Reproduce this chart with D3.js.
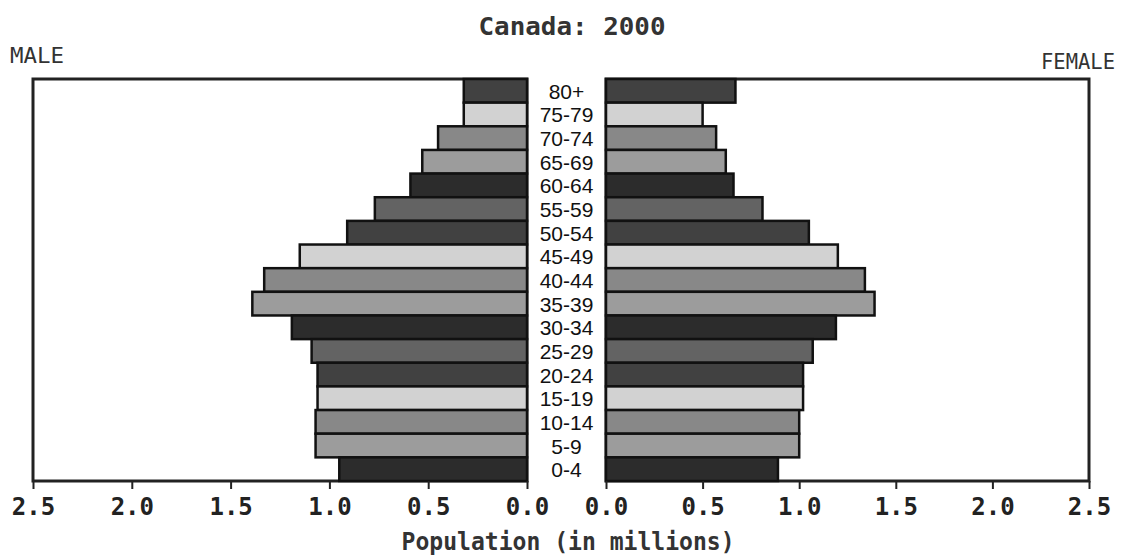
<!DOCTYPE html>
<html>
<head>
<meta charset="utf-8">
<script src="https://cdn.jsdelivr.net/npm/d3@7"></script>
<style>
  body { margin: 0; background: #fff; }
</style>
</head>
<body>
<div id="canvas"></div>
<script>
// age groups top to bottom, values in millions
const ageGroups = ['80+','75-79','70-74','65-69','60-64','55-59','50-54','45-49','40-44',
                   '35-39','30-34','25-29','20-24','15-19','10-14','5-9','0-4']
const male   = [0.32,0.32,0.45,0.53,0.59,0.77,0.91,1.15,1.33,1.39,1.19,1.09,1.06,1.06,1.07,1.07,0.95]
const female = [0.67,0.50,0.57,0.62,0.66,0.81,1.05,1.20,1.34,1.39,1.19,1.07,1.02,1.02,1.00,1.00,0.89]
const tickValues = [0, 0.5, 1.0, 1.5, 2.0, 2.5]

// grey shades repeat every 6 bars
const shades = ['#414141','#d2d2d2','#888888','#9c9c9c','#2c2c2c','#636363']

const width = 1125, height = 556
const plotTop = 79, plotBottom = 481

const svg = d3.select('#canvas').append('svg')
  .attr('width', width).attr('height', height)

let xL = d3.scaleLinear().domain([2.5, 0]).range([33, 527])
let xR = d3.scaleLinear().domain([0, 2.5]).range([606, 1089])
let y = d3.scaleBand().domain(ageGroups).range([plotTop, plotBottom]).padding(0)

// frames
svg.append('rect')
  .attr('x', xL(2.5)).attr('y', plotTop)
  .attr('width', xL(0) - xL(2.5)).attr('height', plotBottom - plotTop)
  .attr('fill', 'none').attr('stroke', '#222').attr('stroke-width', 3)
svg.append('rect')
  .attr('x', xR(0)).attr('y', plotTop)
  .attr('width', xR(2.5) - xR(0)).attr('height', plotBottom - plotTop)
  .attr('fill', 'none').attr('stroke', '#222').attr('stroke-width', 3)

// male bars
svg.append('g').selectAll('rect')
  .data(male).enter().append('rect')
  .attr('x', d => xL(d))
  .attr('y', (d, i) => y(ageGroups[i]))
  .attr('width', d => xL(0) - xL(d))
  .attr('height', y.bandwidth())
  .attr('fill', (d, i) => shades[i % 6])
  .attr('stroke', '#111').attr('stroke-width', 2.5)

// female bars
svg.append('g').selectAll('rect')
  .data(female).enter().append('rect')
  .attr('x', xR(0))
  .attr('y', (d, i) => y(ageGroups[i]))
  .attr('width', d => xR(d) - xR(0))
  .attr('height', y.bandwidth())
  .attr('fill', (d, i) => shades[i % 6])
  .attr('stroke', '#111').attr('stroke-width', 2.5)

// white label column
svg.append('rect')
  .attr('x', xL(0) + 2).attr('y', plotTop - 4)
  .attr('width', xR(0) - xL(0) - 4).attr('height', plotBottom - plotTop + 4)
  .attr('fill', '#fff')

svg.append('g').selectAll('text')
  .data(ageGroups).enter().append('text')
  .text(d => d)
  .attr('x', (xL(0) + xR(0)) / 2)
  .attr('y', d => y(d) + y.bandwidth() / 2 + 8)
  .attr('text-anchor', 'middle')
  .attr('font-family', 'Liberation Sans, Arial, sans-serif')
  .attr('font-size', 21)
  .attr('fill', '#111')

// axes
function styleAxis(g) {
  g.select('.domain').remove()
  g.selectAll('.tick line').attr('stroke', '#222').attr('stroke-width', 2)
  g.selectAll('.tick text')
    .attr('font-family', 'DejaVu Sans Mono, monospace')
    .attr('font-weight', 'bold')
    .attr('font-size', 24)
    .attr('fill', '#222')
    .attr('dy', '0.95em')
}
let xAxisL = d3.axisBottom(xL).tickValues(tickValues).tickSize(8).tickFormat(d3.format('.1f'))
svg.append('g').attr('transform', `translate(0,${plotBottom})`).call(xAxisL).call(styleAxis)
let xAxisR = d3.axisBottom(xR).tickValues(tickValues).tickSize(8).tickFormat(d3.format('.1f'))
svg.append('g').attr('transform', `translate(0,${plotBottom})`).call(xAxisR).call(styleAxis)

// texts
svg.append('text')
  .text('Canada: 2000')
  .attr('x', 572).attr('y', 35)
  .attr('text-anchor', 'middle')
  .attr('font-family', 'DejaVu Sans Mono, monospace')
  .attr('font-weight', 'bold').attr('font-size', 24)
  .attr('textLength', 187).attr('lengthAdjust', 'spacingAndGlyphs')
  .attr('fill', '#333')

svg.append('text')
  .text('MALE')
  .attr('x', 10).attr('y', 63)
  .attr('font-family', 'DejaVu Sans Mono, monospace')
  .attr('font-size', 22)
  .attr('textLength', 54).attr('lengthAdjust', 'spacingAndGlyphs')
  .attr('fill', '#333')

svg.append('text')
  .text('FEMALE')
  .attr('x', 1115).attr('y', 69)
  .attr('text-anchor', 'end')
  .attr('font-family', 'DejaVu Sans Mono, monospace')
  .attr('font-size', 22)
  .attr('textLength', 74).attr('lengthAdjust', 'spacingAndGlyphs')
  .attr('fill', '#333')

svg.append('text')
  .text('Population (in millions)')
  .attr('x', 568).attr('y', 550)
  .attr('text-anchor', 'middle')
  .attr('font-family', 'DejaVu Sans Mono, monospace')
  .attr('font-weight', 'bold').attr('font-size', 24)
  .attr('textLength', 333).attr('lengthAdjust', 'spacingAndGlyphs')
  .attr('fill', '#333')
</script>
</body>
</html>
